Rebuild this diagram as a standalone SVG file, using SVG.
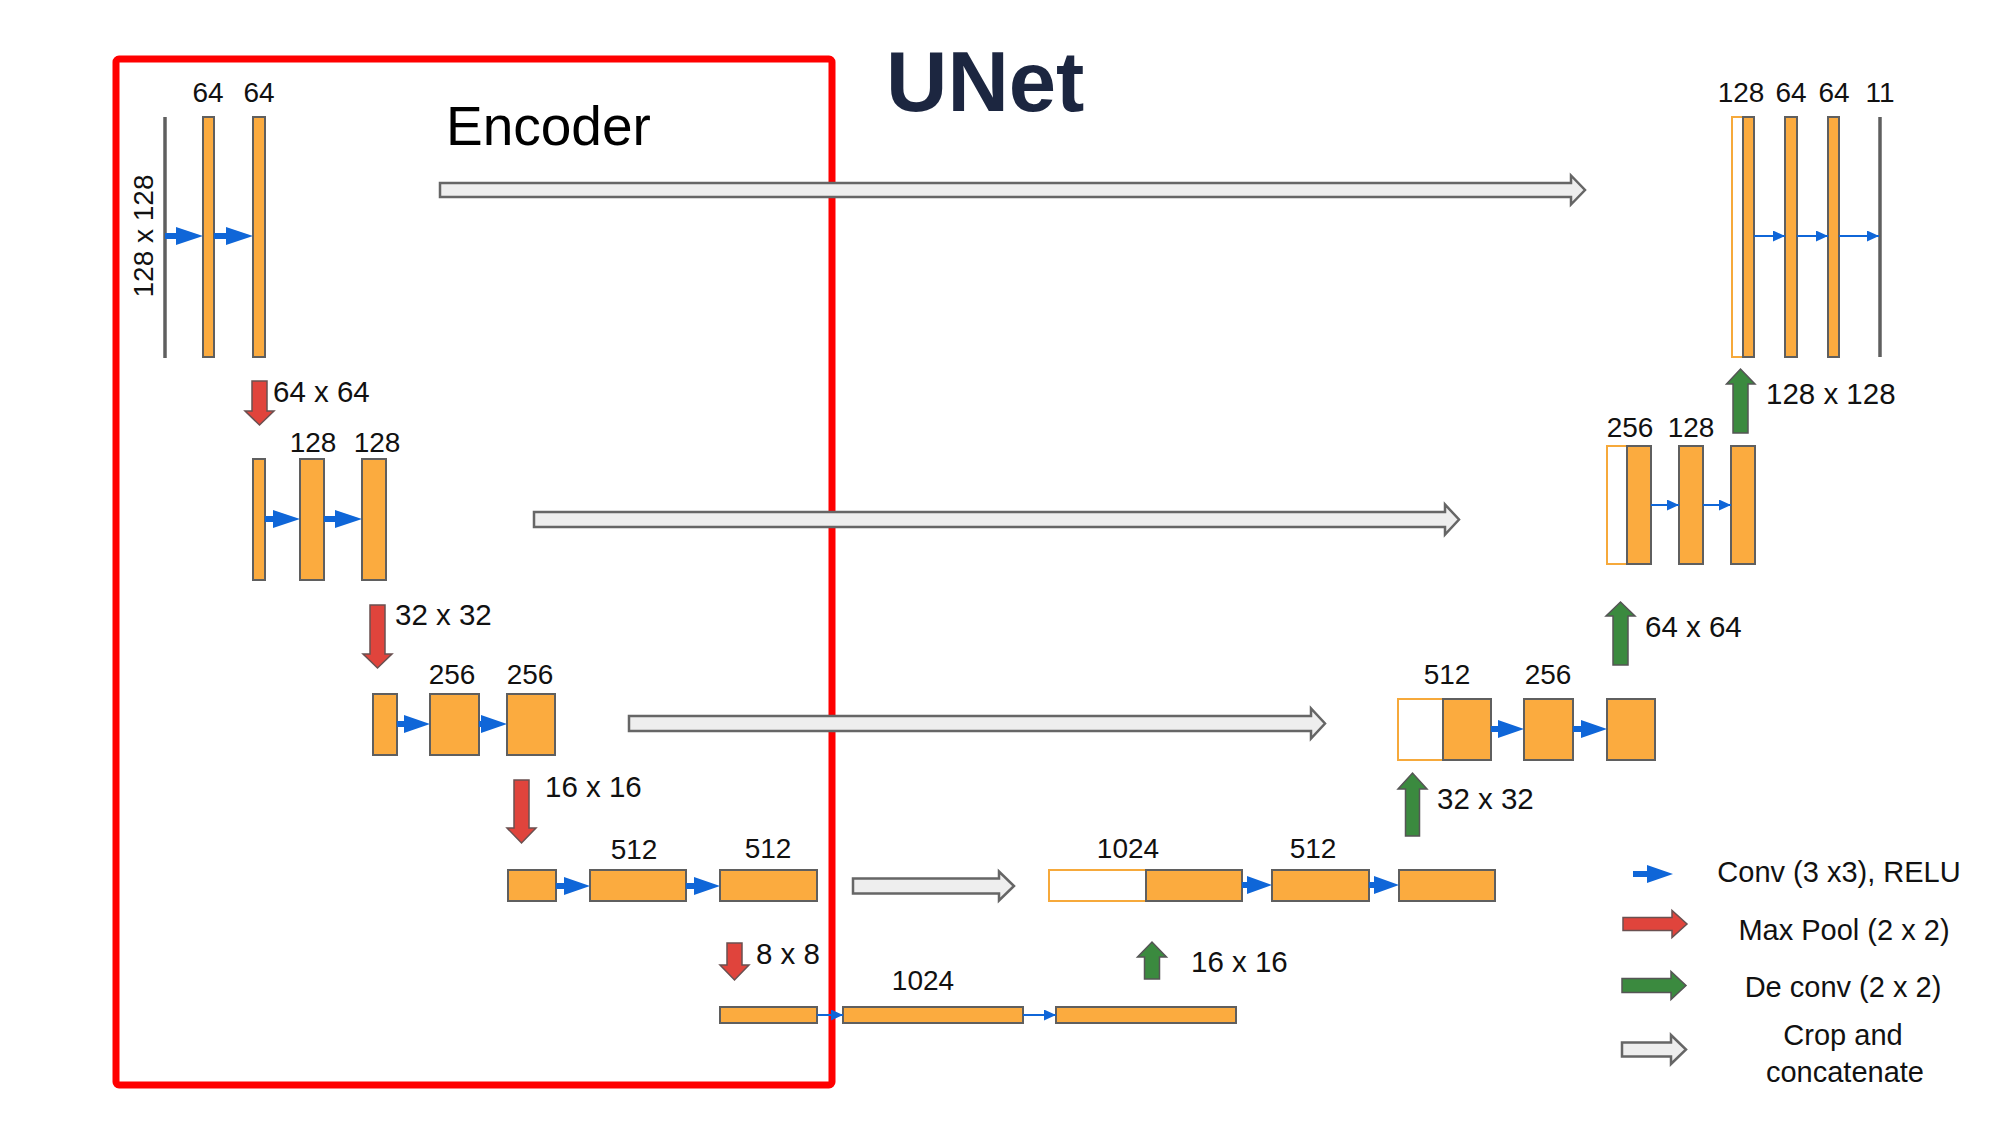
<svg xmlns="http://www.w3.org/2000/svg" width="2000" height="1125" viewBox="0 0 2000 1125">
<defs>
<style>
.fm{fill:#fbab3f;stroke:#5f5f5f;stroke-width:2}
.cat{fill:#ffffff;stroke:#f6a93b;stroke-width:2}
.ln{stroke:#5f5f5f;stroke-width:3.5;fill:none}
.gray{fill:#eeeeee;stroke:#666666;stroke-width:2.5;stroke-linejoin:miter}
.red{fill:#e0443c;stroke:#6a5050;stroke-width:1.5}
.green{fill:#3b8a3f;stroke:#555555;stroke-width:1.5}
.blue{fill:#0f66d8;stroke:none}
.thin{stroke:#0f66d8;stroke-width:2;fill:none}
.lbl{font-family:"Liberation Sans",Arial,sans-serif;font-size:28px;fill:#111111}
.dim{font-size:29.5px}
.mid{text-anchor:middle}
.leg{font-family:"Liberation Sans",Arial,sans-serif;font-size:29px;fill:#111111;text-anchor:middle}
</style>
<marker id="tip" markerUnits="userSpaceOnUse" markerWidth="12" markerHeight="11" viewBox="0 0 12 11" refX="12" refY="5.5" orient="auto">
<path d="M0,0 L12,5.5 L0,11 Z" fill="#0f66d8"/>
</marker>
</defs>
<rect x="0" y="0" width="2000" height="1125" fill="#ffffff"/>

<g id="encoder-frame">
<rect x="116" y="59" width="716" height="1026" rx="3" fill="none" stroke="#ff0000" stroke-width="7"/>
<text x="446" y="145" font-family="Liberation Sans, Arial, sans-serif" font-size="55" fill="#000000">Encoder</text>
</g>
<g id="title">
<text x="886" y="111" font-family="Liberation Sans, Arial, sans-serif" font-weight="bold" font-size="85" fill="#1c2640">UNet</text>
</g>

<!-- Encoder level 1 -->
<g id="enc1">
<line class="ln" x1="165" y1="117" x2="165" y2="358"/>
<rect class="fm" x="203" y="117" width="11" height="240"/>
<rect class="fm" x="253" y="117" width="12" height="240"/>
<text class="lbl mid" x="208" y="102">64</text>
<text class="lbl mid" x="259" y="102">64</text>
<text class="lbl mid" transform="translate(153,236) rotate(-90)">128 x 128</text>
</g>
<!-- Encoder level 2 -->
<g id="enc2">
<rect class="fm" x="253" y="459" width="12" height="121"/>
<rect class="fm" x="300" y="459" width="24" height="121"/>
<rect class="fm" x="362" y="459" width="24" height="121"/>
<text class="lbl mid" x="313" y="452">128</text>
<text class="lbl mid" x="377" y="452">128</text>
</g>
<!-- Encoder level 3 -->
<g id="enc3">
<rect class="fm" x="373" y="694" width="24" height="61"/>
<rect class="fm" x="430" y="694" width="49" height="61"/>
<rect class="fm" x="507" y="694" width="48" height="61"/>
<text class="lbl mid" x="452" y="684">256</text>
<text class="lbl mid" x="530" y="684">256</text>
</g>
<!-- Encoder level 4 -->
<g id="enc4">
<rect class="fm" x="508" y="870" width="48" height="31"/>
<rect class="fm" x="590" y="870" width="96" height="31"/>
<rect class="fm" x="720" y="870" width="97" height="31"/>
<text class="lbl mid" x="634" y="859">512</text>
<text class="lbl mid" x="768" y="858">512</text>
</g>
<!-- Bottleneck -->
<g id="bottleneck">
<rect class="fm" x="720" y="1007" width="97" height="16"/>
<rect class="fm" x="843" y="1007" width="180" height="16"/>
<rect class="fm" x="1056" y="1007" width="180" height="16"/>
<text class="lbl mid" x="923" y="990">1024</text>
</g>
<!-- Decoder level 4 -->
<g id="dec4">
<rect class="cat" x="1049" y="870" width="97" height="31"/>
<rect class="fm" x="1146" y="870" width="96" height="31"/>
<rect class="fm" x="1272" y="870" width="97" height="31"/>
<rect class="fm" x="1399" y="870" width="96" height="31"/>
<text class="lbl mid" x="1128" y="858">1024</text>
<text class="lbl mid" x="1313" y="858">512</text>
</g>
<!-- Decoder level 3 -->
<g id="dec3">
<rect class="cat" x="1398" y="699" width="45" height="61"/>
<rect class="fm" x="1443" y="699" width="48" height="61"/>
<rect class="fm" x="1524" y="699" width="49" height="61"/>
<rect class="fm" x="1607" y="699" width="48" height="61"/>
<text class="lbl mid" x="1447" y="684">512</text>
<text class="lbl mid" x="1548" y="684">256</text>
</g>
<!-- Decoder level 2 -->
<g id="dec2">
<rect class="cat" x="1607" y="446" width="20" height="118"/>
<rect class="fm" x="1627" y="446" width="24" height="118"/>
<rect class="fm" x="1679" y="446" width="24" height="118"/>
<rect class="fm" x="1731" y="446" width="24" height="118"/>
<text class="lbl mid" x="1630" y="437">256</text>
<text class="lbl mid" x="1691" y="437">128</text>
</g>
<!-- Decoder level 1 -->
<g id="dec1">
<rect class="cat" x="1732" y="117" width="11" height="240"/>
<rect class="fm" x="1743" y="117" width="11" height="240"/>
<rect class="fm" x="1785" y="117" width="12" height="240"/>
<rect class="fm" x="1828" y="117" width="11" height="240"/>
<line class="ln" x1="1880" y1="117" x2="1880" y2="357"/>
<text class="lbl mid" x="1741" y="102">128</text>
<text class="lbl mid" x="1791" y="102">64</text>
<text class="lbl mid" x="1834" y="102">64</text>
<text class="lbl mid" x="1880" y="102">11</text>
</g>

<g id="connectors">
<!-- crop and concatenate -->
<path class="gray" d="M440,183 H1571 V175.5 L1585,190 L1571,204.5 V197 H440 Z"/>
<path class="gray" d="M534,512 H1445 V504.5 L1459,519.5 L1445,534.5 V527 H534 Z"/>
<path class="gray" d="M629,716 H1311 V708.5 L1325,723.5 L1311,738.5 V731 H629 Z"/>
<path class="gray" d="M853,878.5 H999 V871.5 L1014,886 L999,900.5 V893.5 H853 Z"/>
<!-- max pool -->
<path class="red" d="M252,381 H267 V411 H274 L259.5,425 L245,411 H252 Z"/>
<path class="red" d="M370,605 H385 V654 H392 L377.5,668 L363,654 H370 Z"/>
<path class="red" d="M514,780 H529 V828 H536 L521.5,843 L507,828 H514 Z"/>
<path class="red" d="M727,943 H742 V965 H749 L734.5,980 L720,965 H727 Z"/>
<text class="lbl dim" x="273" y="402">64 x 64</text>
<text class="lbl dim" x="395" y="625">32 x 32</text>
<text class="lbl dim" x="545" y="797">16 x 16</text>
<text class="lbl dim" x="756" y="964">8 x 8</text>
<!-- de conv -->
<path class="green" d="M1144.5,979 V957 H1137.5 L1152,942 L1166.5,957 H1159.5 V979 Z"/>
<path class="green" d="M1405.5,836 V789 H1398 L1412.5,773 L1427,789 H1419.5 V836 Z"/>
<path class="green" d="M1613,665 V616 H1606 L1620.5,602 L1635,616 H1628 V665 Z"/>
<path class="green" d="M1733,433 V384 H1726.5 L1740.5,369 L1755,384 H1748 V433 Z"/>
<text class="lbl dim" x="1191" y="972">16 x 16</text>
<text class="lbl dim" x="1437" y="809">32 x 32</text>
<text class="lbl dim" x="1645" y="637">64 x 64</text>
<text class="lbl dim" x="1766" y="404">128 x 128</text>
<!-- conv 3x3 relu -->
<path class="blue" d="M165,233 H176 V227 L203,236 L176,245 V239 H165 Z"/>
<path class="blue" d="M214,233 H226 V227 L253,236 L226,245 V239 H214 Z"/>
<path class="blue" d="M265,516 H273 V510 L300,519 L273,528 V522 H265 Z"/>
<path class="blue" d="M324,516 H335 V510 L362,519 L335,528 V522 H324 Z"/>
<path class="blue" d="M397,721 H404 V715 L430,724 L404,733 V727 H397 Z"/>
<path class="blue" d="M479,721 H481 V715 L507,724 L481,733 V727 H479 Z"/>
<path class="blue" d="M556,883 H564 V877 L590,886 L564,895 V889 H556 Z"/>
<path class="blue" d="M686,883 H694 V877 L720,886 L694,895 V889 H686 Z"/>
<path class="blue" d="M1242,882 H1247 V876 L1272,885 L1247,894 V888 H1242 Z"/>
<path class="blue" d="M1369,882 H1374 V876 L1399,885 L1374,894 V888 H1369 Z"/>
<path class="blue" d="M1491,726 H1498 V720 L1524,729 L1498,738 V732 H1491 Z"/>
<path class="blue" d="M1573,726 H1581 V720 L1607,729 L1581,738 V732 H1573 Z"/>
<path class="thin" d="M817,1015 H843" marker-end="url(#tip)"/>
<path class="thin" d="M1023,1015 H1056" marker-end="url(#tip)"/>
<path class="thin" d="M1651,505 H1679" marker-end="url(#tip)"/>
<path class="thin" d="M1703,505 H1731" marker-end="url(#tip)"/>
<path class="thin" d="M1754,236 H1785" marker-end="url(#tip)"/>
<path class="thin" d="M1797,236 H1828" marker-end="url(#tip)"/>
<path class="thin" d="M1839,236 H1879" marker-end="url(#tip)"/>
</g>

<g id="legend">
<path class="blue" d="M1633,871 H1647 V865 L1673,874 L1647,883 V877 H1633 Z"/>
<text class="leg" x="1839" y="882">Conv (3 x3), RELU</text>
<path class="red" d="M1623,917.5 H1672 V910.5 L1687,924 L1672,937.5 V930.5 H1623 Z"/>
<text class="leg" x="1844" y="940">Max Pool (2 x 2)</text>
<path class="green" d="M1622,978.5 H1671 V971.5 L1686,985.5 L1671,999.5 V992.5 H1622 Z"/>
<text class="leg" x="1843" y="997">De conv (2 x 2)</text>
<path class="gray" d="M1622,1042.5 H1671 V1035 L1686,1049.5 L1671,1064 V1056.5 H1622 Z"/>
<text class="leg" x="1843" y="1045">Crop and</text>
<text class="leg" x="1845" y="1082">concatenate</text>
</g>
</svg>
